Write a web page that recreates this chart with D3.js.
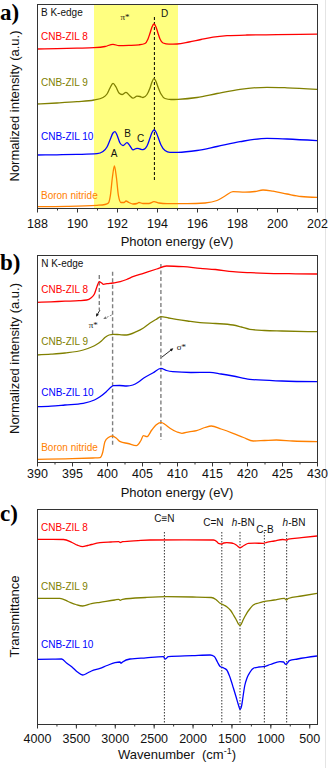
<!DOCTYPE html>
<html>
<head>
<meta charset="utf-8" />
<title>XANES and FTIR spectra</title>
<style>
html, body {
    margin: 0;
    padding: 0;
    background: #fff;
}
#chart {
    width: 328px;
    height: 768px;
}
</style>
</head>
<body>
<div id="chart"></div>
<script src="https://cdnjs.cloudflare.com/ajax/libs/d3/7.8.5/d3.min.js"></script>
<script>
// sample names
var samples = ["CNB-ZIL 8", "CNB-ZIL 9", "CNB-ZIL 10", "Boron nitride"];

// (a) B K-edge, [photon energy eV, offset intensity a.u.]
var bEdge8 = [[188,159],[189,159.3],[190,159.8],[190.85,160.3],[191.4,161.5],[191.8,163.7],[192.1,162.3],[192.6,162.6],[193.1,163.2],[193.4,164.5],[193.55,169],[193.65,174.8],[193.75,181.1],[193.85,184],[193.95,181.1],[194.05,174.8],[194.15,169],[194.3,165],[194.6,163.8],[195,164],[195.6,166],[196.2,168.5],[196.8,170.8],[197.5,172.3],[198.5,173],[200,173.3],[202,173.8]];
var bEdge9 = [[188,104],[189,105],[190,106.3],[190.85,108],[191.3,110.5],[191.5,114],[191.65,120],[191.8,124.7],[191.95,121],[192.1,115],[192.25,113.5],[192.45,115.7],[192.65,112],[192.8,109.8],[193,111.8],[193.15,111.5],[193.3,110.5],[193.5,113.5],[193.65,120],[193.75,126],[193.85,129.3],[193.95,126.5],[194.05,121],[194.2,114],[194.4,109.5],[194.7,108.5],[195.05,108.7],[196,110.5],[197,114.5],[198.15,118.7],[199.5,120.7],[200.5,120.2],[202,118.7]];
var bEdge10 = [[188,53],[189,53.2],[190,53.6],[191,54.3],[191.3,56.5],[191.5,61],[191.65,68],[191.8,75],[191.9,76.3],[192,73],[192.15,65],[192.3,62.5],[192.5,65.3],[192.65,62],[192.8,58.2],[193,59.7],[193.15,59],[193.3,58.3],[193.5,62],[193.65,70],[193.75,75.5],[193.85,78],[193.95,76],[194.05,71],[194.2,63],[194.4,57.5],[194.65,55.7],[195.05,55.7],[196,57.5],[197,61.5],[198.15,66.3],[199.5,69.7],[200.5,69],[202,67.3]];
var bEdgeBN = [[188,1.3],[189.5,1.6],[191,2.7],[191.4,3.5],[191.57,5],[191.67,12.7],[191.77,30.6],[191.87,42],[191.97,30.6],[192.07,12.7],[192.2,5.5],[192.35,5.5],[192.45,7],[192.6,5.5],[192.8,4],[193,4.5],[193.1,5.5],[193.3,4.5],[193.6,4.5],[193.85,6.3],[194.1,5],[194.5,4.3],[195.5,4.3],[196.4,5],[197,7.5],[197.4,12],[197.8,16.3],[198.4,15.8],[198.9,16.5],[199.3,18],[199.8,16.8],[200.5,14],[201.2,11.5],[202,10.7]];

// (b) N K-edge
var nEdge8 = [[390,159.7],[392,160.2],[394,160.8],[396,161.3],[397.1,162],[397.7,164],[398.2,168],[398.6,176],[398.9,180.3],[399.2,179.2],[399.5,177.7],[400,178.3],[400.8,179],[401.9,180.3],[402.8,182.5],[403.7,185.3],[405.2,188.7],[407.1,193],[408.5,196],[410.9,195.3],[413.3,193.7],[415.5,192.5],[418,190.3],[420.5,189.3],[422.8,188.7],[426,188.3],[430,188]];
var nEdge9 = [[390,107],[392,107.8],[394,109],[396.6,112],[397.8,115],[398.5,117.5],[399.2,121],[399.7,124.5],[400.3,127],[400.9,127.7],[401.8,127.3],[402.8,127],[404.2,130.3],[405.2,134],[406.1,138.7],[407,142.5],[407.7,145.3],[408.8,144],[409.9,142.7],[411.5,141],[413.3,139.3],[415.5,138.5],[418,137],[419.2,135],[420.4,132.7],[422.5,131.5],[425,131],[430,130.3]];
var nEdge10 = [[390,55.3],[392,55.8],[394,57],[396.6,58.7],[398.2,62],[399,65.3],[399.9,70.3],[400.5,74.5],[400.9,76.3],[401.8,76.5],[402.8,76],[403.7,77],[404.5,80],[405.2,83.7],[406.6,89.3],[407.7,93.7],[408.5,91.5],[409.4,90.3],[412,89.5],[414.7,89.7],[416.3,88],[418,86],[420.4,82.7],[425,81],[430,80.3]];
var nEdgeBN = [[390,2.7],[395,3.3],[398,4],[399,4.3],[399.4,10],[399.7,20.3],[400.2,24.5],[400.8,26],[401.3,24],[401.9,20.3],[403,18.5],[404.2,16.3],[404.8,21],[405.2,26.3],[405.7,25.3],[406.4,32],[407,37],[407.7,39.7],[408.3,37.5],[409,33.7],[410,30],[410.7,28.7],[411.7,30.2],[412.8,31.3],[414,34.5],[414.9,36],[416.3,33],[418,28.7],[419.5,24.5],[420.9,21],[422.5,21.5],[424.2,22],[426.5,21],[430,20.3]];

// (c) FTIR, [wavenumber cm-1, offset transmittance]
var ir8 = [[4000,184.7],[3800,184.7],[3660,184.5],[3550,181.5],[3480,178.8],[3413,177.3],[3350,178.5],[3300,179.5],[3190,181.3],[3050,182],[2950,182.3],[2930,181.5],[2900,182.3],[2700,183.4],[2547,184],[2100,184.2],[1731,184],[1690,182.5],[1667,180.7],[1624,180],[1600,181],[1560,181.3],[1500,181],[1474,180.5],[1430,178.5],[1390,176.3],[1340,178.5],[1283,180.7],[1200,180.8],[1090,180.7],[1047,181.7],[950,183],[840,184.5],[800,184],[790,183.8],[770,184.8],[600,186.3],[400,188]];
var ir9 = [[4000,125.7],[3706,125.7],[3600,122.5],[3500,119.5],[3413,118],[3300,120.3],[3190,121.7],[3000,124],[2950,124.7],[2930,123.7],[2900,124.7],[2600,126.5],[2333,127.3],[2000,127],[1760,126.5],[1700,124.5],[1646,120.7],[1600,119],[1560,117.3],[1510,113.5],[1474,109],[1440,104.5],[1410,100],[1390,98.5],[1370,100.5],[1350,104],[1320,108.5],[1304,110.7],[1260,115.5],[1219,119],[1150,121],[1090,122.3],[950,124],[820,125.7],[795,124],[770,125.5],[600,128],[400,130.7]];
var ir10 = [[4000,64.7],[3800,64.9],[3683,65],[3620,61],[3550,57],[3480,52],[3413,49],[3350,51],[3300,53],[3190,55.7],[3100,58.5],[2997,61.3],[2933,62],[2920,60.8],[2900,62],[2804,65],[2600,66.2],[2376,67.3],[2350,65],[2312,67.3],[2000,68.3],[1774,69],[1720,67.5],[1680,62],[1646,57.5],[1600,56],[1560,54],[1520,47],[1474,35.7],[1440,27],[1410,19],[1390,14.7],[1370,18],[1350,28],[1330,38],[1300,46],[1260,52],[1219,55.7],[1150,57],[1090,57.3],[1000,59.5],[876,62.3],[830,62],[806,59.7],[790,60.2],[755,63.3],[650,65],[400,68]];

// axis ticks
var ticksA = [188, 190, 192, 194, 196, 198, 200, 202];
var ticksB = [390, 395, 400, 405, 410, 415, 420, 425, 430];
var ticksC = [4000, 3500, 3000, 2500, 2000, 1500, 1000, 500];

// marker positions
var piBand = [190.85, 195.05];
var peakD = 193.87;
var nLines = [398.9, 400.8, 407.7];
var irLines = [2362, 1624, 1390, 1077, 790];

!(function(){
    "use strict"

    var colors = ["#ff0000", "#808000", "#0000ff", "#ff8000"]
    var sans = "'Liberation Sans', Arial, sans-serif"
    var serif = "'Liberation Serif', 'Times New Roman', serif"
    var left = 37, right = 317

    var svg = d3.select("#chart").append("svg")
        .attr("width", 328)
        .attr("height", 768)

    // thin page edge
    svg.append("line")
        .attr("x1", 325.5).attr("x2", 325.5)
        .attr("y1", 0).attr("y2", 768)
        .attr("stroke", "#e4e4e4")

    main()

    function main() {
        var a = makePanel({
            top: 4, bottom: 208, domain: [188, 202], ymax: 204,
            ticks: ticksA, minor: d3.range(188, 202.1, 1), pad: 7,
            letter: "a)", letterY: 20, title: "Photon energy (eV)", titleY: 246,
            ylabel: "Normalized intensity (a.u.)"
        })
        // pi* region
        a.back.append("rect")
            .attr("x", a.x(piBand[0]))
            .attr("width", a.x(piBand[1]) - a.x(piBand[0]))
            .attr("y", a.y(204))
            .attr("height", a.y(0) - a.y(204))
            .attr("fill", "#ffff80")
        a.back.append("line")
            .attr("x1", a.x(peakD)).attr("x2", a.x(peakD))
            .attr("y1", a.y(191)).attr("y2", a.y(28))
            .attr("stroke", "#000")
            .attr("stroke-dasharray", "3,2")
        drawSeries(a, [bEdge8, bEdge9, bEdge10, bEdgeBN])
        note(a, "B K-edge", 188.2, 192.3, "#111", 10, "start")
        note(a, samples[0], 188.2, 168, colors[0], 10, "start")
        note(a, samples[1], 188.2, 122, colors[1], 10, "start")
        note(a, samples[2], 188.2, 68, colors[2], 10, "start")
        note(a, samples[3], 188.2, 9.3, colors[3], 10, "start")
        note(a, "π*", 192.4, 188.5, "#111", 9, "middle", serif)
        note(a, "D", 194.2, 191, "#111", 10, "start")
        note(a, "A", 191.85, 50.7, "#111", 10, "middle")
        note(a, "B", 192.53, 71.3, "#111", 10, "middle")
        note(a, "C", 193.18, 66, "#111", 10, "middle")

        var b = makePanel({
            top: 255, bottom: 462, domain: [390, 430], ymax: 207,
            ticks: ticksB, minor: d3.range(390, 430.1, 2.5), pad: 3,
            letter: "b)", letterY: 270, title: "Photon energy (eV)", titleY: 497,
            ylabel: "Normalized intensity (a.u.)"
        })
        var spans = [[187, 152], [190.3, 15.3], [198, 22]]
        nLines.forEach(function(v, i) {
            b.back.append("line")
                .attr("x1", b.x(v)).attr("x2", b.x(v))
                .attr("y1", b.y(spans[i][0])).attr("y2", b.y(spans[i][1]))
                .attr("stroke", "#7f7f7f")
                .attr("stroke-width", 1.4)
                .attr("stroke-dasharray", "4,2.5")
        })
        drawSeries(b, [nEdge8, nEdge9, nEdge10, nEdgeBN])
        arrow(b, [399, 152], [398.43, 145.3], "#111", null)
        arrow(b, [400.67, 147], [399.47, 143], "#777", "2,1.5")
        arrow(b, [407.81, 104.7], [409.47, 113.7], "#111", null)
        note(b, "N K-edge", 390.6, 194.7, "#111", 10, "start")
        note(b, samples[0], 390.6, 168.7, colors[0], 10, "start")
        note(b, samples[1], 390.6, 117, colors[1], 10, "start")
        note(b, samples[2], 390.6, 66.3, colors[2], 10, "start")
        note(b, samples[3], 390.6, 11, colors[3], 10, "start")
        note(b, "π*", 398.04, 134, "#111", 9, "middle", serif)
        note(b, "σ*", 409.96, 112, "#111", 9, "start", serif)

        var c = makePanel({
            top: 509, bottom: 724, domain: [4000, 400], ymax: 215,
            ticks: ticksC, minor: d3.range(4000, 399, -250), pad: 6,
            letter: "c)", letterY: 521, title: null, titleY: 759,
            ylabel: "Transmittance"
        })
        irLines.forEach(function(v) {
            c.back.append("line")
                .attr("x1", c.x(v)).attr("x2", c.x(v))
                .attr("y1", c.y(192)).attr("y2", c.y(1))
                .attr("stroke", "#000")
                .attr("stroke-width", 0.8)
                .attr("stroke-dasharray", "1.5,1.5")
        })
        drawSeries(c, [ir8, ir9, ir10])
        note(c, samples[0], 3949, 193, colors[0], 10, "start")
        note(c, samples[1], 3949, 134, colors[1], 10, "start")
        note(c, samples[2], 3949, 75.7, colors[2], 10, "start")
        note(c, "C≡N", 2362, 202.3, "#111", 10, "middle")
        note(c, "C=N", 1733, 198, "#111", 10, "middle")
        note(c, "C-B", 1069, 190.7, "#111", 10, "middle")
        hbn(c, 1348, 198)
        hbn(c, 696, 198)

        // wavenumber title with superscript
        var t = svg.append("text")
            .attr("x", (left + right) / 2)
            .attr("y", 759)
            .attr("text-anchor", "middle")
            .attr("font-family", sans)
            .attr("font-size", "13px")
            .attr("fill", "#111")
        t.append("tspan").text("Wavenumber\u00a0 (cm")
        t.append("tspan").attr("dy", -5).attr("font-size", "9px").text("-1")
        t.append("tspan").attr("dy", 5).text(")")
    }

    function makePanel(o) {
        var x = d3.scaleLinear().domain(o.domain).range([left, right])
        var y = d3.scaleLinear().domain([0, o.ymax]).range([o.bottom, o.top])
        var g = svg.append("g")
        var back = g.append("g")
        var front = g.append("g")

        g.append("rect")
            .attr("x", left + 0.5)
            .attr("y", o.top + 0.5)
            .attr("width", right - left)
            .attr("height", o.bottom - o.top)
            .attr("fill", "none")
            .attr("stroke", "#333")
            .attr("stroke-width", 1)

        // minor and major ticks
        var minorAxis = g.append("g")
            .attr("transform", "translate(0," + (o.bottom + 0.5) + ")")
            .call(d3.axisBottom(x).tickValues(o.minor).tickSize(2).tickFormat(""))
        minorAxis.select(".domain").remove()
        minorAxis.selectAll("line").attr("stroke", "#333")

        var axis = g.append("g")
            .attr("transform", "translate(0," + (o.bottom + 0.5) + ")")
            .call(d3.axisBottom(x).tickValues(o.ticks).tickSize(4).tickPadding(o.pad).tickFormat(d3.format("d")))
        axis.select(".domain").remove()
        axis.selectAll("line").attr("stroke", "#333")
        axis.selectAll("text")
            .attr("font-family", sans)
            .attr("font-size", "12.5px")
            .attr("fill", "#111")

        svg.append("text")
            .attr("x", 0)
            .attr("y", o.letterY)
            .attr("font-family", serif)
            .attr("font-weight", "bold")
            .attr("font-size", "23px")
            .attr("fill", "#000")
            .text(o.letter)

        svg.append("text")
            .attr("transform", "translate(19," + ((o.top + o.bottom) / 2) + ") rotate(-90)")
            .attr("text-anchor", "middle")
            .attr("font-family", sans)
            .attr("font-size", "13px")
            .attr("fill", "#111")
            .text(o.ylabel)

        if (o.title) {
            svg.append("text")
                .attr("x", (left + right) / 2)
                .attr("y", o.titleY)
                .attr("text-anchor", "middle")
                .attr("font-family", sans)
                .attr("font-size", "13px")
                .attr("fill", "#111")
                .text(o.title)
        }

        return { x: x, y: y, back: back, front: front }
    }

    function drawSeries(p, list) {
        var line = d3.line()
            .x(function(d) { return p.x(d[0]) })
            .y(function(d) { return p.y(d[1]) })
            .curve(d3.curveMonotoneX)
        p.front.selectAll("path.spec")
            .data(list)
            .enter().append("path")
            .attr("class", "spec")
            .attr("d", line)
            .attr("fill", "none")
            .attr("stroke", function(d, i) { return colors[i] })
            .attr("stroke-width", 1.3)
    }

    function note(p, txt, xv, yv, col, size, anchor, family) {
        p.front.append("text")
            .attr("x", p.x(xv))
            .attr("y", p.y(yv))
            .attr("text-anchor", anchor)
            .attr("font-family", family || sans)
            .attr("font-size", size + "px")
            .attr("fill", col)
            .text(txt)
    }

    function hbn(p, xv, yv) {
        var t = p.front.append("text")
            .attr("x", p.x(xv))
            .attr("y", p.y(yv))
            .attr("text-anchor", "middle")
            .attr("font-family", sans)
            .attr("font-size", "10px")
            .attr("fill", "#111")
        t.append("tspan").attr("font-style", "italic").text("h")
        t.append("tspan").text("-BN")
    }

    function arrow(p, from, to, col, dash) {
        var x1 = p.x(from[0]), y1 = p.y(from[1])
        var x2 = p.x(to[0]), y2 = p.y(to[1])
        var ang = Math.atan2(y2 - y1, x2 - x1)
        p.front.append("line")
            .attr("x1", x1).attr("y1", y1)
            .attr("x2", x2 - 2 * Math.cos(ang)).attr("y2", y2 - 2 * Math.sin(ang))
            .attr("stroke", col)
            .attr("stroke-width", 0.9)
            .attr("stroke-dasharray", dash)
        var s = 3.5
        var pts = [
            [x2, y2],
            [x2 - s * Math.cos(ang - 0.45), y2 - s * Math.sin(ang - 0.45)],
            [x2 - s * Math.cos(ang + 0.45), y2 - s * Math.sin(ang + 0.45)]
        ]
        p.front.append("polygon")
            .attr("points", pts.map(function(d) { return d.join(",") }).join(" "))
            .attr("fill", col)
    }
}());
</script>
</body>
</html>
